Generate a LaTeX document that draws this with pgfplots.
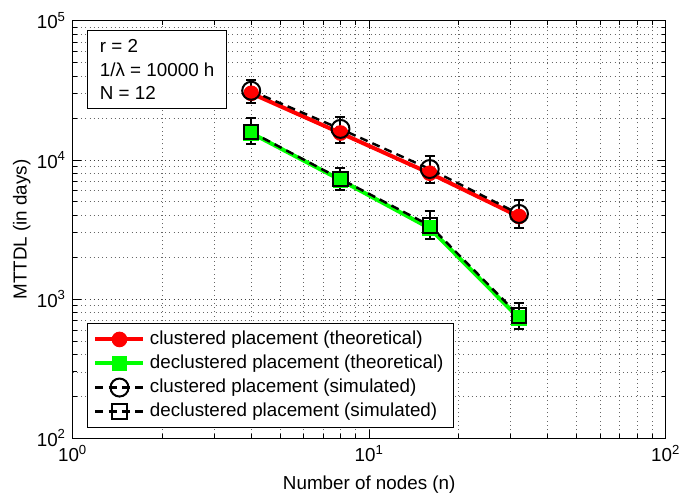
\documentclass[border=0pt]{standalone}
\usepackage{fontspec}
\setmainfont{Liberation Sans}
\usepackage{pgfplots}
\pgfplotsset{compat=1.18}
\begin{document}
\fontsize{9.4}{11.3}\selectfont
\begin{tikzpicture}
\begin{axis}[
  scale only axis, width=296.5pt, height=208.8pt,
  xmode=log, ymode=log,
  xmin=1, xmax=100, ymin=100, ymax=100000,
  xtick={1,10,100},
  xticklabels={10\textsuperscript{0},10\textsuperscript{1},10\textsuperscript{2}},
  ytick={100,1000,10000,100000},
  yticklabels={10\textsuperscript{2},10\textsuperscript{3},10\textsuperscript{4},10\textsuperscript{5}},
  minor xtick={2,3,4,5,6,7,8,9,20,30,40,50,60,70,80,90},
  minor ytick={200,300,400,500,600,700,800,900,2000,3000,4000,5000,6000,7000,8000,9000,20000,30000,40000,50000,60000,70000,80000,90000},
  tick align=inside,
  major tick length=4pt, minor tick length=2pt,
  every tick/.style={black, line width=0.4pt},
  axis line style={line width=0.6pt},
  grid=both,
  major grid style={black!75, line width=0.35pt, dash pattern=on 0.5pt off 1.6pt},
  minor grid style={black!60, line width=0.35pt, dash pattern=on 0.5pt off 1.6pt},
  tick label style={font=\fontsize{9.4}{11}\selectfont},
  label style={font=\fontsize{9.4}{11}\selectfont},
  xlabel={Number of nodes (n)},
  ylabel={MTTDL (in days)},
  every axis x label/.style={at={(axis description cs:0.5,-0.1221)}, anchor=base},
  every axis y label/.style={at={(axis description cs:-0.0776,0.5)}, rotate=90, anchor=base},
  legend cell align=left,
  legend style={at={(0.0241,0.0254)}, anchor=south west, draw=black, line width=0.5pt,
    font=\fontsize{9.4}{11}\selectfont, inner xsep=3pt, inner ysep=1.5pt, row sep=-0.6pt,
    nodes={inner sep=2.2pt}},
  legend image code/.code={\draw[mark repeat=2, mark phase=2, #1] plot coordinates {(0pt,0pt) (12pt,0pt) (24pt,0pt)};},
]
\addplot[red, line width=2pt, mark=*, mark size=2.9pt, mark options={solid, fill=red, draw=red}]
  coordinates {(4,30100) (8,15600) (16,8020) (32,3920)};
\addlegendentry{clustered placement (theoretical)}
\addplot[green, line width=2pt, mark=square*, mark size=2.9pt, mark options={solid, fill=green, draw=green}]
  coordinates {(4,15600) (8,7180) (16,3230) (32,731)};
\addlegendentry{declustered placement (theoretical)}
\addplot[black, line width=1.2pt, dash pattern=on 4pt off 2.6pt, mark=o, mark size=4.5pt,
  mark options={solid, line width=1pt},
  error bars/.cd, y dir=both, y explicit,
  error bar style={line width=1pt, black, solid},
  error mark options={rotate=90, black, line width=1pt, mark size=2.5pt}]
  coordinates {(4,31400) += (0,6100) -= (0,5600)
               (8,16700) += (0,3800) -= (0,3400)
               (16,8600) += (0,2000) -= (0,1720)
               (32,4090) += (0,1070) -= (0,850)};
\addlegendentry{clustered placement (simulated)}
\addplot[black, line width=1.2pt, dash pattern=on 4pt off 2.6pt, mark=square, mark size=3.6pt,
  mark options={solid, line width=1pt},
  error bars/.cd, y dir=both, y explicit,
  error bar style={line width=1pt, black, solid},
  error mark options={rotate=90, black, line width=1pt, mark size=2.5pt}]
  coordinates {(4,15900) += (0,4000) -= (0,2900)
               (8,7300) += (0,1410) -= (0,1270)
               (16,3380) += (0,880) -= (0,680)
               (32,762) += (0,173) -= (0,152)};
\addlegendentry{declustered placement (simulated)}
\node[draw=black, line width=0.5pt, fill=white, anchor=north west, align=left,
  minimum width=69.7pt, minimum height=39.2pt, inner xsep=4pt, inner ysep=2pt,
  font=\fontsize{9.4}{11.85}\selectfont]
  at (rel axis cs:0.0241,0.9777) {r = 2\\1/λ = 10000 h\\N = 12};
\end{axis}
\pgfresetboundingbox
\useasboundingbox (-36.35pt,-27.85pt) rectangle (313.15pt,219.15pt);
\end{tikzpicture}
\end{document}
